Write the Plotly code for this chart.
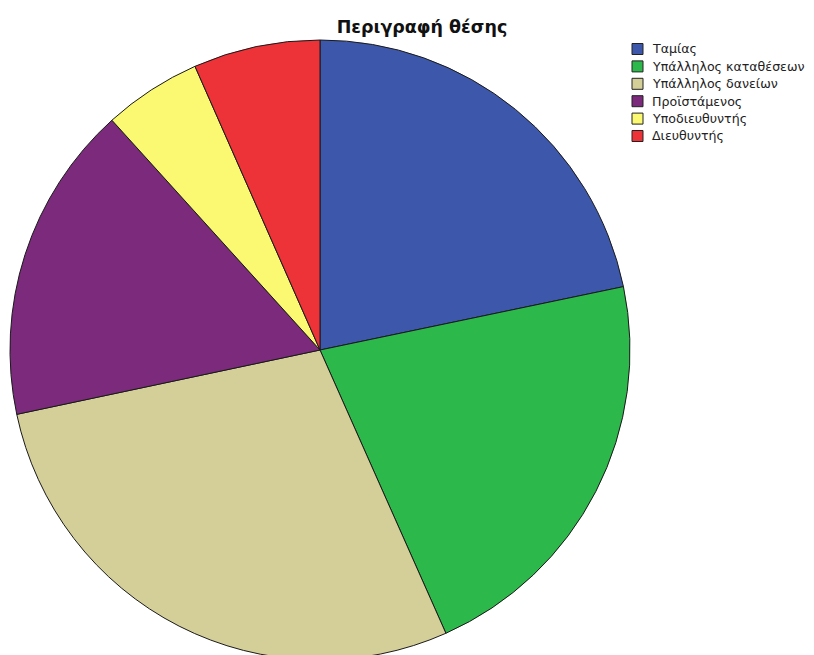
import plotly.graph_objects as go

categories = ["Ταμίας", "Υπάλληλος καταθέσεων", "Υπάλληλος δανείων",
              "Προϊστάμενος", "Υποδιευθυντής", "Διευθυντής"]
values = [21.7, 21.6, 28.3, 16.6, 5.1, 6.6]
colors = ["#3D58AB", "#2DB84B", "#D4CE99", "#7B2A7C", "#FBF872", "#ED3338"]

W, H = 814, 655


def px(x):
    return x / W


def py(y):
    return 1 - y / H


fig = go.Figure(go.Pie(
    labels=categories, values=values, sort=False, direction="clockwise",
    rotation=0, textinfo="none", hoverinfo="label+percent",
    marker=dict(colors=colors, line=dict(color="#1a1a1a", width=1)),
    domain=dict(x=[px(2), px(622)], y=[py(652), py(32)]),
    showlegend=False,
))

# legend drawn as swatches + labels (SPSS-style compact spacing)
x0, y0, step, sw = 624, 41, 17.4, 11
for i, (cat, col) in enumerate(zip(categories, colors)):
    yc = y0 + i * step
    fig.add_shape(type="rect", xref="paper", yref="paper",
                  x0=px(x0), x1=px(x0 + sw), y0=py(yc + sw / 2), y1=py(yc - sw / 2),
                  fillcolor=col, line=dict(color="#222", width=1))
    fig.add_annotation(text=cat, xref="paper", yref="paper",
                       x=px(642), y=py(yc), xanchor="left", yanchor="middle",
                       showarrow=False,
                       font=dict(family="DejaVu Sans", size=12.6, color="#222"))

fig.update_layout(
    width=W, height=H, margin=dict(l=0, r=0, t=0, b=0),
    paper_bgcolor="white", plot_bgcolor="white",
    title=dict(text="<b>Περιγραφή θέσης</b>", x=px(414), xanchor="center",
               y=py(19), yanchor="middle",
               font=dict(family="DejaVu Sans", size=17.5, color="#111")),
    showlegend=False,
)
fig.write_html("out.html")
